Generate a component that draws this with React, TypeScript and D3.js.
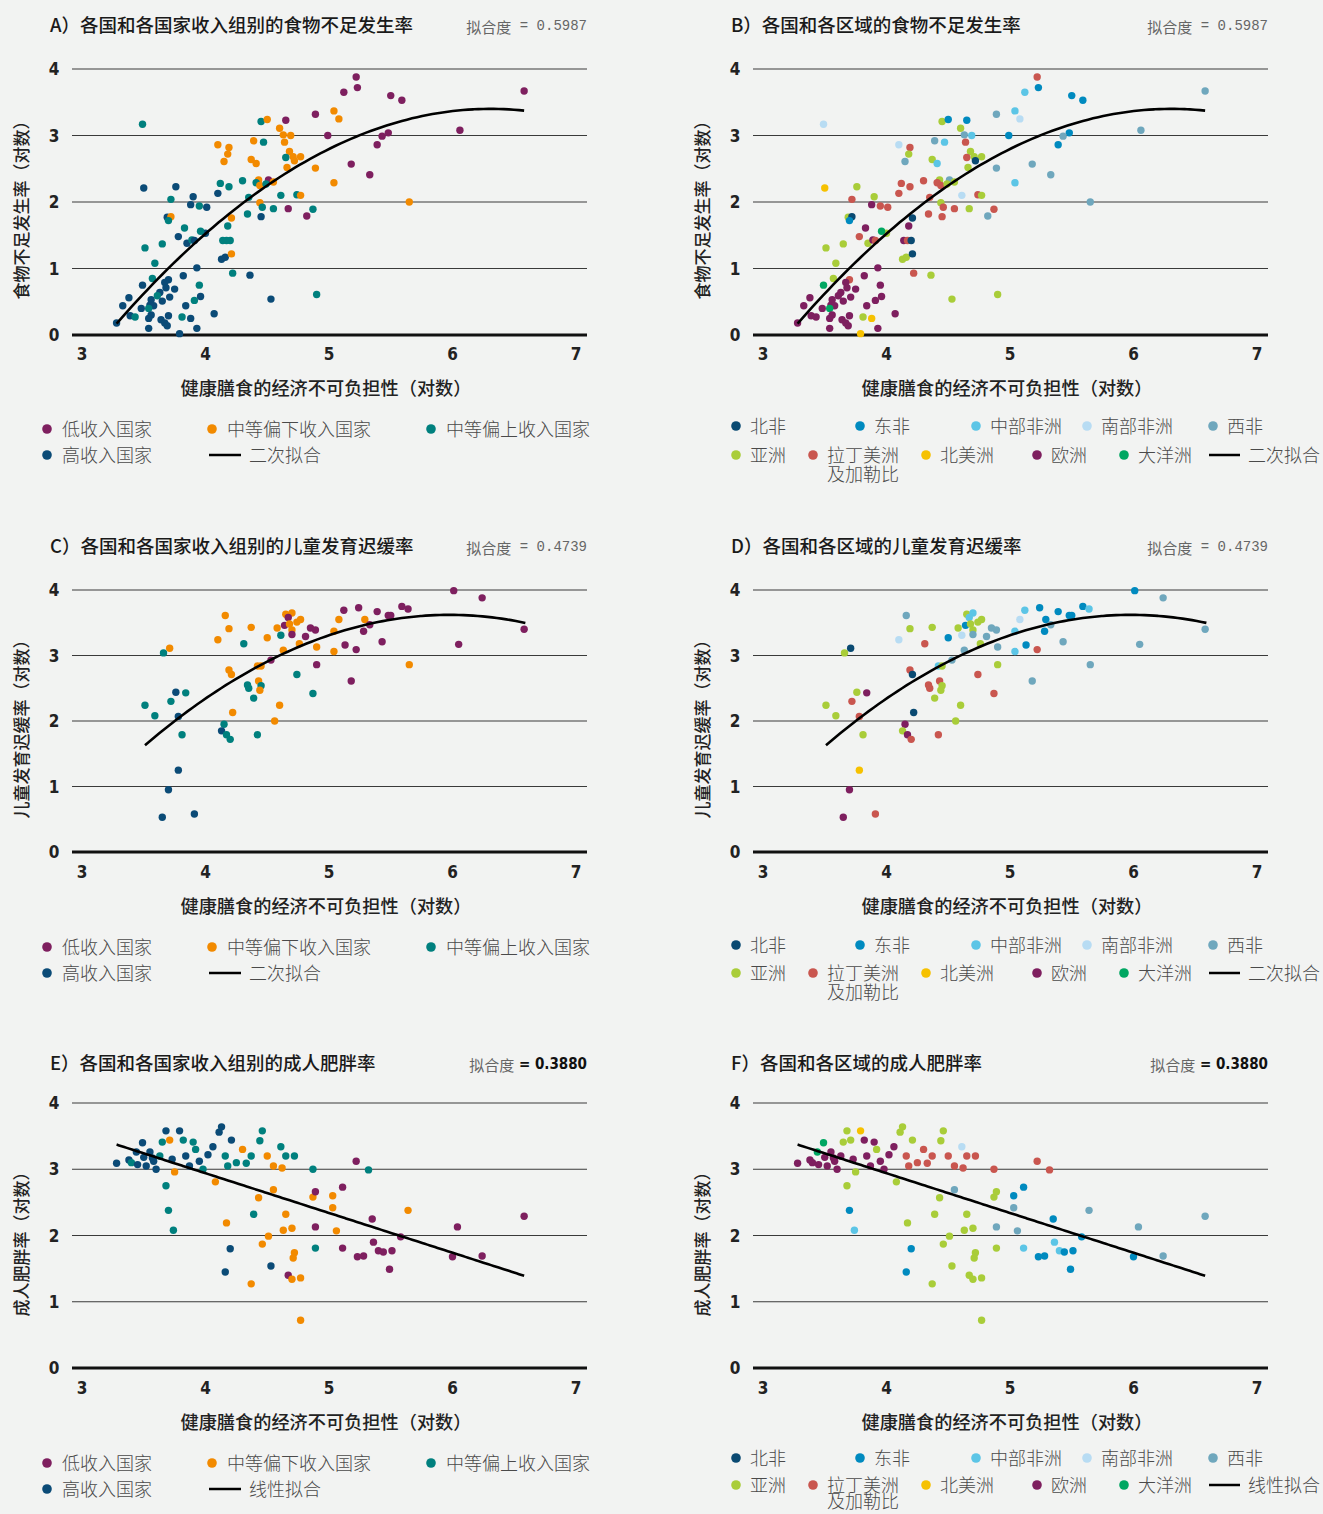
import React from "react";
import * as d3 from "d3";

// [x, y, income group, region]
type Pt = [number, number, string, string];

// A/B food insecurity (undernourishment)
const undernourishment: Pt[] = [
  [3.49, 3.17, "T", "SA"], [3.5, 2.21, "B", "NAm"], [3.76, 2.23, "B", "AS"], [3.72, 2.04, "T", "LA"],
  [3.9, 2.08, "B", "AS"], [3.88, 1.96, "B", "EU"], [3.95, 1.94, "T", "LA"], [4.01, 1.92, "B", "LA"],
  [3.69, 1.77, "B", "AS"], [3.72, 1.78, "O", "NA"], [3.7, 1.72, "T", "EA"], [4.1, 2.13, "B", "LA"],
  [4.12, 2.28, "T", "LA"], [4.19, 2.23, "T", "LA"], [4.1, 2.86, "O", "SA"], [4.19, 2.82, "O", "LA"],
  [4.18, 2.72, "O", "AS"], [4.15, 2.61, "O", "WA"], [4.3, 2.32, "T", "LA"], [4.35, 2.07, "T", "LA"],
  [4.39, 2.92, "O", "WA"], [4.37, 2.64, "O", "AS"], [4.41, 2.58, "O", "CA"], [4.45, 3.21, "T", "AS"],
  [4.5, 3.24, "O", "EA"], [4.47, 2.9, "T", "CA"], [4.65, 3.23, "P", "EA"], [4.6, 3.11, "O", "AS"],
  [4.63, 3.01, "O", "WA"], [4.69, 3.0, "O", "CA"], [4.64, 2.9, "O", "LA"], [4.68, 2.76, "O", "AS"],
  [4.71, 2.68, "O", "AS"], [4.65, 2.67, "T", "LA"], [4.77, 2.68, "O", "AS"], [4.72, 2.62, "O", "NA"],
  [4.66, 2.52, "O", "AS"], [4.89, 2.51, "O", "WA"], [4.89, 3.32, "P", "WA"], [5.04, 3.37, "O", "CA"],
  [5.08, 3.25, "O", "SA"], [4.99, 3.0, "P", "EA"], [5.12, 3.65, "P", "CA"], [5.22, 3.88, "P", "LA"],
  [5.23, 3.72, "P", "EA"], [5.18, 2.57, "P", "WA"], [5.04, 2.29, "O", "CA"], [4.43, 2.33, "O", "AS"],
  [4.41, 2.29, "T", "LA"], [4.44, 2.25, "O", "LA"], [4.51, 2.33, "P", "WA"], [4.55, 2.3, "O", "AS"],
  [4.49, 2.27, "T", "AS"], [4.61, 2.1, "T", "SA"], [4.74, 2.11, "T", "LA"], [4.77, 2.1, "O", "AS"],
  [4.44, 1.99, "O", "AS"], [4.46, 1.92, "T", "LA"], [4.55, 1.9, "T", "LA"], [4.67, 1.9, "P", "AS"],
  [4.82, 1.79, "P", "WA"], [4.87, 1.89, "T", "LA"], [4.45, 1.78, "B", "LA"], [4.34, 1.82, "T", "LA"],
  [4.21, 1.76, "O", "NA"], [4.18, 1.64, "T", "EU"], [4.0, 1.53, "B", "AS"], [3.96, 1.56, "T", "OC"],
  [3.83, 1.61, "T", "EU"], [3.78, 1.48, "B", "LA"], [3.85, 1.38, "B", "AS"], [3.89, 1.43, "T", "EU"],
  [3.91, 1.42, "B", "LA"], [3.51, 1.31, "T", "AS"], [3.65, 1.37, "T", "AS"], [4.14, 1.42, "T", "EU"],
  [4.17, 1.42, "T", "LA"], [4.2, 1.42, "T", "NA"], [4.13, 1.14, "B", "AS"], [4.16, 1.17, "B", "AS"],
  [4.21, 1.22, "O", "NA"], [3.59, 1.08, "T", "AS"], [4.22, 0.93, "T", "LA"], [4.36, 0.9, "B", "AS"],
  [3.93, 1.01, "B", "EU"], [3.82, 0.89, "B", "EU"], [3.57, 0.85, "T", "AS"], [3.49, 0.75, "B", "OC"],
  [3.7, 0.83, "B", "LA"], [3.67, 0.79, "B", "EU"], [3.68, 0.71, "B", "EU"], [3.75, 0.69, "B", "EU"],
  [3.95, 0.75, "T", "EU"], [3.38, 0.56, "B", "EU"], [3.33, 0.44, "B", "EU"], [3.56, 0.53, "B", "EU"],
  [3.55, 0.45, "B", "EU"], [3.58, 0.44, "B", "EU"], [3.54, 0.4, "T", "OC"], [3.63, 0.64, "B", "EU"],
  [3.61, 0.59, "T", "EU"], [3.65, 0.51, "B", "EU"], [3.71, 0.57, "B", "EU"], [3.48, 0.4, "B", "EU"],
  [3.39, 0.29, "B", "EU"], [3.43, 0.27, "T", "EU"], [3.56, 0.3, "B", "EU"], [3.54, 0.25, "B", "EU"],
  [3.64, 0.23, "B", "EU"], [3.67, 0.18, "B", "EU"], [3.69, 0.14, "B", "EU"], [3.7, 0.29, "B", "EU"],
  [3.84, 0.44, "B", "EU"], [3.91, 0.52, "T", "EU"], [3.96, 0.58, "B", "EU"], [3.81, 0.27, "T", "AS"],
  [3.88, 0.25, "B", "NAm"], [4.07, 0.32, "B", "EU"], [3.54, 0.1, "B", "EU"], [3.93, 0.1, "B", "EU"],
  [3.79, 0.02, "B", "NAm"], [3.28, 0.18, "B", "EU"], [4.53, 0.54, "B", "AS"], [4.9, 0.61, "T", "AS"],
  [5.5, 3.6, "P", "EA"], [5.59, 3.53, "P", "EA"], [6.58, 3.67, "P", "WA"], [6.06, 3.08, "P", "WA"],
  [5.48, 3.04, "P", "EA"], [5.43, 2.99, "P", "WA"], [5.39, 2.86, "P", "EA"], [5.33, 2.41, "P", "WA"],
  [5.65, 2.0, "O", "WA"],
];

// C/D child stunting
const stunting: Pt[] = [
  [3.51, 2.24, "T", "AS"], [3.59, 2.08, "T", "AS"], [3.66, 3.04, "T", "AS"], [3.71, 3.11, "O", "NA"],
  [3.72, 2.3, "T", "LA"], [3.76, 2.44, "B", "AS"], [3.84, 2.43, "T", "EU"], [3.78, 2.07, "B", "LA"],
  [3.81, 1.79, "T", "AS"], [3.78, 1.25, "B", "NAm"], [3.7, 0.95, "B", "EU"], [3.65, 0.53, "B", "EU"],
  [3.91, 0.58, "B", "LA"], [4.1, 3.24, "O", "SA"], [4.16, 3.61, "O", "WA"], [4.19, 3.41, "O", "AS"],
  [4.31, 3.18, "T", "LA"], [4.37, 3.43, "O", "AS"], [4.19, 2.78, "O", "LA"], [4.21, 2.71, "O", "NA"],
  [4.22, 2.13, "O", "NA"], [4.15, 1.95, "T", "EU"], [4.13, 1.85, "B", "AS"], [4.17, 1.79, "T", "EU"],
  [4.2, 1.72, "T", "LA"], [4.42, 1.79, "T", "LA"], [4.42, 2.84, "O", "CA"], [4.45, 2.84, "O", "AS"],
  [4.43, 2.61, "O", "LA"], [4.34, 2.55, "T", "LA"], [4.35, 2.5, "T", "LA"], [4.45, 2.54, "T", "AS"],
  [4.44, 2.47, "O", "AS"], [4.39, 2.35, "T", "AS"], [4.5, 3.27, "O", "EA"], [4.58, 3.42, "O", "AS"],
  [4.61, 3.31, "T", "SA"], [4.6, 2.24, "O", "AS"], [4.56, 2.0, "O", "AS"], [4.53, 2.93, "P", "WA"],
  [4.63, 3.08, "O", "WA"], [4.65, 3.63, "O", "AS"], [4.7, 3.65, "O", "CA"], [4.67, 3.58, "P", "CA"],
  [4.64, 3.46, "P", "EA"], [4.68, 3.48, "O", "AS"], [4.74, 3.51, "O", "AS"], [4.77, 3.55, "O", "AS"],
  [4.7, 3.39, "O", "AS"], [4.7, 3.32, "P", "WA"], [4.76, 3.18, "O", "AS"], [4.81, 3.29, "P", "WA"],
  [4.85, 3.42, "P", "WA"], [4.89, 3.39, "P", "WA"], [4.9, 3.13, "O", "WA"], [4.74, 2.71, "T", "LA"],
  [4.9, 2.86, "P", "AS"], [4.87, 2.42, "T", "LA"], [5.04, 3.37, "O", "CA"], [5.08, 3.55, "O", "SA"],
  [5.12, 3.69, "P", "CA"], [5.04, 3.06, "O", "CA"], [5.13, 3.16, "P", "EA"], [5.22, 3.09, "P", "LA"],
  [5.18, 2.61, "P", "WA"], [5.24, 3.73, "P", "EA"], [5.29, 3.55, "O", "EA"], [5.28, 3.37, "P", "EA"],
  [5.33, 3.47, "P", "WA"], [5.43, 3.21, "P", "WA"], [5.39, 3.67, "P", "EA"], [5.48, 3.61, "P", "EA"],
  [5.5, 3.61, "P", "EA"], [5.59, 3.75, "P", "EA"], [5.64, 3.71, "P", "CA"], [5.65, 2.86, "O", "WA"],
  [6.01, 3.99, "P", "EA"], [6.24, 3.88, "P", "WA"], [6.05, 3.17, "P", "WA"], [6.58, 3.4, "P", "WA"],
];

// E/F adult obesity
const obesity: Pt[] = [
  [3.28, 3.09, "B", "EU"], [3.38, 3.14, "B", "EU"], [3.4, 3.1, "T", "EU"], [3.44, 3.26, "B", "OC"],
  [3.45, 3.07, "B", "EU"], [3.5, 3.18, "B", "EU"], [3.57, 3.17, "B", "EU"],
  [3.49, 3.4, "B", "OC"], [3.52, 3.05, "B", "EU"], [3.55, 3.26, "B", "EU"], [3.58, 3.12, "B", "EU"],
  [3.6, 3.0, "B", "EU"], [3.63, 3.2, "T", "EU"], [3.65, 3.41, "T", "AS"], [3.68, 3.58, "B", "AS"],
  [3.71, 3.44, "O", "AS"], [3.73, 3.15, "B", "EU"], [3.75, 2.96, "O", "AS"], [3.68, 2.75, "T", "AS"],
  [3.7, 2.38, "T", "EA"], [3.74, 2.08, "T", "CA"], [3.79, 3.58, "B", "NAm"], [3.82, 3.44, "T", "EU"],
  [3.84, 3.2, "B", "EU"], [3.87, 3.05, "B", "EU"], [3.9, 3.41, "T", "EU"], [3.92, 3.3, "T", "AS"],
  [3.95, 3.12, "B", "EU"], [3.98, 3.0, "T", "EU"], [4.02, 3.22, "B", "EU"], [4.06, 3.34, "B", "EU"],
  [4.08, 2.81, "O", "AS"], [4.11, 3.56, "B", "AS"], [4.13, 3.64, "B", "AS"], [4.16, 3.2, "T", "LA"],
  [4.18, 3.05, "T", "LA"], [4.21, 3.44, "B", "AS"], [4.25, 3.1, "T", "LA"], [4.3, 3.3, "O", "LA"],
  [4.33, 3.09, "T", "LA"], [4.37, 3.2, "T", "LA"], [4.44, 3.43, "T", "AS"], [4.46, 3.58, "T", "AS"],
  [4.5, 3.2, "O", "LA"], [4.55, 3.05, "O", "LA"], [4.61, 3.34, "T", "SA"], [4.65, 3.2, "T", "LA"],
  [4.62, 3.02, "O", "LA"], [4.72, 3.2, "T", "LA"], [4.87, 3.0, "T", "LA"], [4.17, 2.19, "O", "AS"],
  [4.2, 1.8, "B", "EA"], [4.16, 1.45, "B", "EA"], [4.37, 1.27, "O", "AS"], [4.39, 2.32, "T", "AS"],
  [4.46, 1.87, "O", "AS"], [4.51, 1.99, "O", "AS"], [4.53, 1.54, "B", "AS"], [4.43, 2.57, "O", "AS"],
  [4.55, 2.69, "O", "WA"], [4.63, 2.08, "O", "AS"], [4.65, 2.32, "O", "AS"], [4.7, 2.11, "O", "AS"],
  [4.72, 1.74, "O", "AS"], [4.71, 1.66, "O", "AS"], [4.67, 1.4, "P", "AS"], [4.7, 1.34, "O", "AS"],
  [4.77, 1.36, "O", "AS"], [4.77, 0.72, "O", "AS"], [4.89, 1.81, "T", "AS"], [4.89, 2.13, "P", "WA"],
  [4.87, 2.58, "O", "AS"], [4.89, 2.66, "P", "AS"], [5.03, 2.6, "O", "EA"], [5.03, 2.42, "O", "WA"],
  [5.06, 2.07, "O", "WA"], [5.11, 2.73, "P", "EA"], [5.11, 1.81, "P", "CA"], [5.22, 3.12, "P", "LA"],
  [5.23, 1.68, "P", "EA"], [5.28, 1.69, "P", "EA"], [5.32, 2.99, "T", "LA"], [5.35, 2.25, "P", "EA"],
  [5.36, 1.9, "P", "CA"], [5.4, 1.77, "P", "CA"], [5.44, 1.75, "P", "EA"], [5.49, 1.49, "P", "EA"],
  [5.51, 1.77, "P", "EA"], [5.58, 1.98, "P", "EA"], [5.64, 2.38, "O", "WA"], [6.04, 2.13, "P", "WA"],
  [6.0, 1.68, "P", "EA"], [6.24, 1.69, "P", "WA"], [6.58, 2.29, "P", "WA"],
];

// fit coefficients y = a + b x + c x^2, drawn over [from, to]
const fitFood = { a: -10.612, b: 4.4418, c: -0.352, from: 3.28, to: 6.58 };
const fitStunting = { a: -8.061, b: 3.9089, c: -0.327, from: 3.51, to: 6.59 };
const fitObesity = { a: 5.34, b: -0.6, c: 0, from: 3.28, to: 6.58 };

const xTicks = [3, 4, 5, 6, 7];
const yTicks = [0, 1, 2, 3, 4];

const incomeColors: Record<string, string> = { P: "#7e1f5f", O: "#f28a00", T: "#00807e", B: "#0b4b77" };
const regionColors: Record<string, string> = {
  NA: "#0a4a72", EA: "#008abf", CA: "#5cc5e6", SA: "#b8dcf3", WA: "#6fa7bd",
  AS: "#a9cd39", LA: "#c9564f", NAm: "#f6c100", EU: "#7e1f5f", OC: "#00a762",
};

const incomeLegend = [
  { k: "P", label: "低收入国家", cx: 47, row: 0 },
  { k: "O", label: "中等偏下收入国家", cx: 212, row: 0 },
  { k: "T", label: "中等偏上收入国家", cx: 431, row: 0 },
  { k: "B", label: "高收入国家", cx: 47, row: 1 },
];
const regionLegend = [
  { k: "NA", label: ["北非"], cx: 736, row: 0 },
  { k: "EA", label: ["东非"], cx: 860, row: 0 },
  { k: "CA", label: ["中部非洲"], cx: 976, row: 0 },
  { k: "SA", label: ["南部非洲"], cx: 1087, row: 0 },
  { k: "WA", label: ["西非"], cx: 1213, row: 0 },
  { k: "AS", label: ["亚洲"], cx: 736, row: 1 },
  { k: "LA", label: ["拉丁美洲", "及加勒比"], cx: 813, row: 1 },
  { k: "NAm", label: ["北美洲"], cx: 926, row: 1 },
  { k: "EU", label: ["欧洲"], cx: 1037, row: 1 },
  { k: "OC", label: ["大洋洲"], cx: 1124, row: 1 },
];

const rows = [
  { y4: 69, y0: 335, title: 24, tick: 354, xlab: 387, ylab: 206, leg: [428, 454], legR: [425, 454, 473] },
  { y4: 590, y0: 852, title: 545, tick: 872, xlab: 905, ylab: 725, leg: [946, 972], legR: [944, 972, 991] },
  { y4: 1103, y0: 1368, title: 1062, tick: 1388, xlab: 1421, ylab: 1240, leg: [1462, 1488], legR: [1457, 1484, 1500] },
];

const CJK = "'Noto Sans CJK SC', 'Noto Sans', sans-serif";
const NARROW = "'Liberation Sans Narrow', 'DejaVu Sans Condensed', 'Roboto', sans-serif";
const MONO = "'Liberation Mono', 'DejaVu Sans Mono', monospace";

type PanelProps = {
  pts: Pt[];
  mode: "inc" | "reg";
  left: number;
  row: (typeof rows)[number];
  title: string;
  r2: string;
  r2Bold: boolean;
  yLabel: string;
  fit: { a: number; b: number; c: number; from: number; to: number };
  fitLabel: string;
};

function Panel({ pts, mode, left, row, title, r2, r2Bold, yLabel, fit, fitLabel }: PanelProps) {
  const x = d3.scaleLinear().domain([3, 7]).range([left + 82, left + 576]);
  const y = d3.scaleLinear().domain([0, 4]).range([row.y0, row.y4]);
  const gx1 = x(3) - 10;
  const gx2 = x(7) + 11;
  const fitPts = d3.range(0, 81).map((i) => {
    const t = fit.from + ((fit.to - fit.from) * i) / 80;
    return [t, fit.a + fit.b * t + fit.c * t * t] as [number, number];
  });
  const line = d3
    .line<[number, number]>()
    .x((d) => x(d[0]))
    .y((d) => y(d[1]))
    .curve(d3.curveMonotoneX);
  const colors = mode === "inc" ? incomeColors : regionColors;
  const key = mode === "inc" ? 2 : 3;
  const xc = left + 326;
  const legText = { fontFamily: CJK, fontSize: 18, fontWeight: 300, fill: "#4a4a4a" };

  return (
    <g>
      <text x={left + 50} y={row.title} dominantBaseline="central" fontFamily={CJK} fontSize={18.5} fontWeight={500} fill="#1a1a1a">
        {title}
      </text>
      {r2Bold ? (
        <text x={gx2} y={row.title + 2} dominantBaseline="central" textAnchor="end" fontSize={15}>
          <tspan fontFamily={CJK} fill="#666">拟合度</tspan>
          <tspan fontFamily={NARROW} fontWeight="bold" fill="#111"> = 0.3880</tspan>
        </text>
      ) : (
        <text x={gx2} y={row.title + 2} dominantBaseline="central" textAnchor="end" fontSize={15} fill="#666">
          <tspan fontFamily={CJK}>拟合度</tspan>
          <tspan fontFamily={MONO} fontSize={14}>{r2}</tspan>
        </text>
      )}

      {yTicks.map((t) => (
        <g key={t}>
          <line
            x1={gx1}
            x2={gx2}
            y1={y(t)}
            y2={y(t)}
            stroke={t === 0 ? "#111" : "#3a3a3a"}
            strokeWidth={t === 0 ? 3 : 1.2}
          />
          <text x={left + 54} y={y(t)} dominantBaseline="central" textAnchor="middle" fontFamily={NARROW} fontWeight="bold" fontSize={17} fill="#222">
            {t}
          </text>
        </g>
      ))}
      {xTicks.map((t) => (
        <text key={t} x={x(t)} y={row.tick} dominantBaseline="central" textAnchor="middle" fontFamily={NARROW} fontWeight="bold" fontSize={17} fill="#222">
          {t}
        </text>
      ))}

      {pts.map((p, i) => (
        <circle key={i} cx={x(p[0])} cy={y(p[1])} r={3.7} fill={colors[p[key]]} />
      ))}
      <path d={line(fitPts) || ""} fill="none" stroke="#000" strokeWidth={2.6} />

      <text x={xc} y={row.xlab} dominantBaseline="central" textAnchor="middle" fontFamily={CJK} fontSize={18.2} fontWeight={500} fill="#222">
        健康膳食的经济不可负担性（对数）
      </text>
      <text
        transform={`translate(${left + 20},${row.ylab}) rotate(-90)`}
        dominantBaseline="central"
        textAnchor="middle"
        fontFamily={CJK}
        fontSize={17}
        fontWeight={500}
        fill="#222"
      >
        {yLabel}
      </text>

      {mode === "inc" ? (
        <g>
          {incomeLegend.map((l) => (
            <g key={l.k}>
              <circle cx={l.cx} cy={row.leg[l.row] + 1} r={4.8} fill={incomeColors[l.k]} />
              <text x={l.cx + 15} y={row.leg[l.row]} dominantBaseline="central" {...legText}>
                {l.label}
              </text>
            </g>
          ))}
          <line x1={209} x2={241} y1={row.leg[1] + 1} y2={row.leg[1] + 1} stroke="#000" strokeWidth={2.5} />
          <text x={249} y={row.leg[1]} dominantBaseline="central" {...legText}>
            {fitLabel}
          </text>
        </g>
      ) : (
        <g>
          {regionLegend.map((l) => (
            <g key={l.k}>
              <circle cx={l.cx} cy={row.legR[l.row] + 1} r={4.8} fill={regionColors[l.k]} />
              <text x={l.cx + 14} y={row.legR[l.row]} dominantBaseline="central" {...legText}>
                {l.label.map((s, j) => (
                  <tspan key={j} x={l.cx + 14} dy={j === 0 ? 0 : row.legR[2] - row.legR[1]}>
                    {s}
                  </tspan>
                ))}
              </text>
            </g>
          ))}
          <line x1={1209} x2={1240} y1={row.legR[1] + 1} y2={row.legR[1] + 1} stroke="#000" strokeWidth={2.5} />
          <text x={1248} y={row.legR[1]} dominantBaseline="central" {...legText}>
            {fitLabel}
          </text>
        </g>
      )}
    </g>
  );
}

export default function App() {
  return (
    <svg
      width={1323}
      height={1514}
      style={{ position: "absolute", left: 0, top: 0, display: "block" }}
    >
      <rect width={1323} height={1514} fill="#f2f3f2" />
      <Panel pts={undernourishment} mode="inc" left={0} row={rows[0]} title="A）各国和各国家收入组别的食物不足发生率" r2=" = 0.5987" r2Bold={false} yLabel="食物不足发生率（对数）" fit={fitFood} fitLabel="二次拟合" />
      <Panel pts={undernourishment} mode="reg" left={681} row={rows[0]} title="B）各国和各区域的食物不足发生率" r2=" = 0.5987" r2Bold={false} yLabel="食物不足发生率（对数）" fit={fitFood} fitLabel="二次拟合" />
      <Panel pts={stunting} mode="inc" left={0} row={rows[1]} title="C）各国和各国家收入组别的儿童发育迟缓率" r2=" = 0.4739" r2Bold={false} yLabel="儿童发育迟缓率（对数）" fit={fitStunting} fitLabel="二次拟合" />
      <Panel pts={stunting} mode="reg" left={681} row={rows[1]} title="D）各国和各区域的儿童发育迟缓率" r2=" = 0.4739" r2Bold={false} yLabel="儿童发育迟缓率（对数）" fit={fitStunting} fitLabel="二次拟合" />
      <Panel pts={obesity} mode="inc" left={0} row={rows[2]} title="E）各国和各国家收入组别的成人肥胖率" r2=" = 0.3880" r2Bold={true} yLabel="成人肥胖率（对数）" fit={fitObesity} fitLabel="线性拟合" />
      <Panel pts={obesity} mode="reg" left={681} row={rows[2]} title="F）各国和各区域的成人肥胖率" r2=" = 0.3880" r2Bold={true} yLabel="成人肥胖率（对数）" fit={fitObesity} fitLabel="线性拟合" />
    </svg>
  );
}
